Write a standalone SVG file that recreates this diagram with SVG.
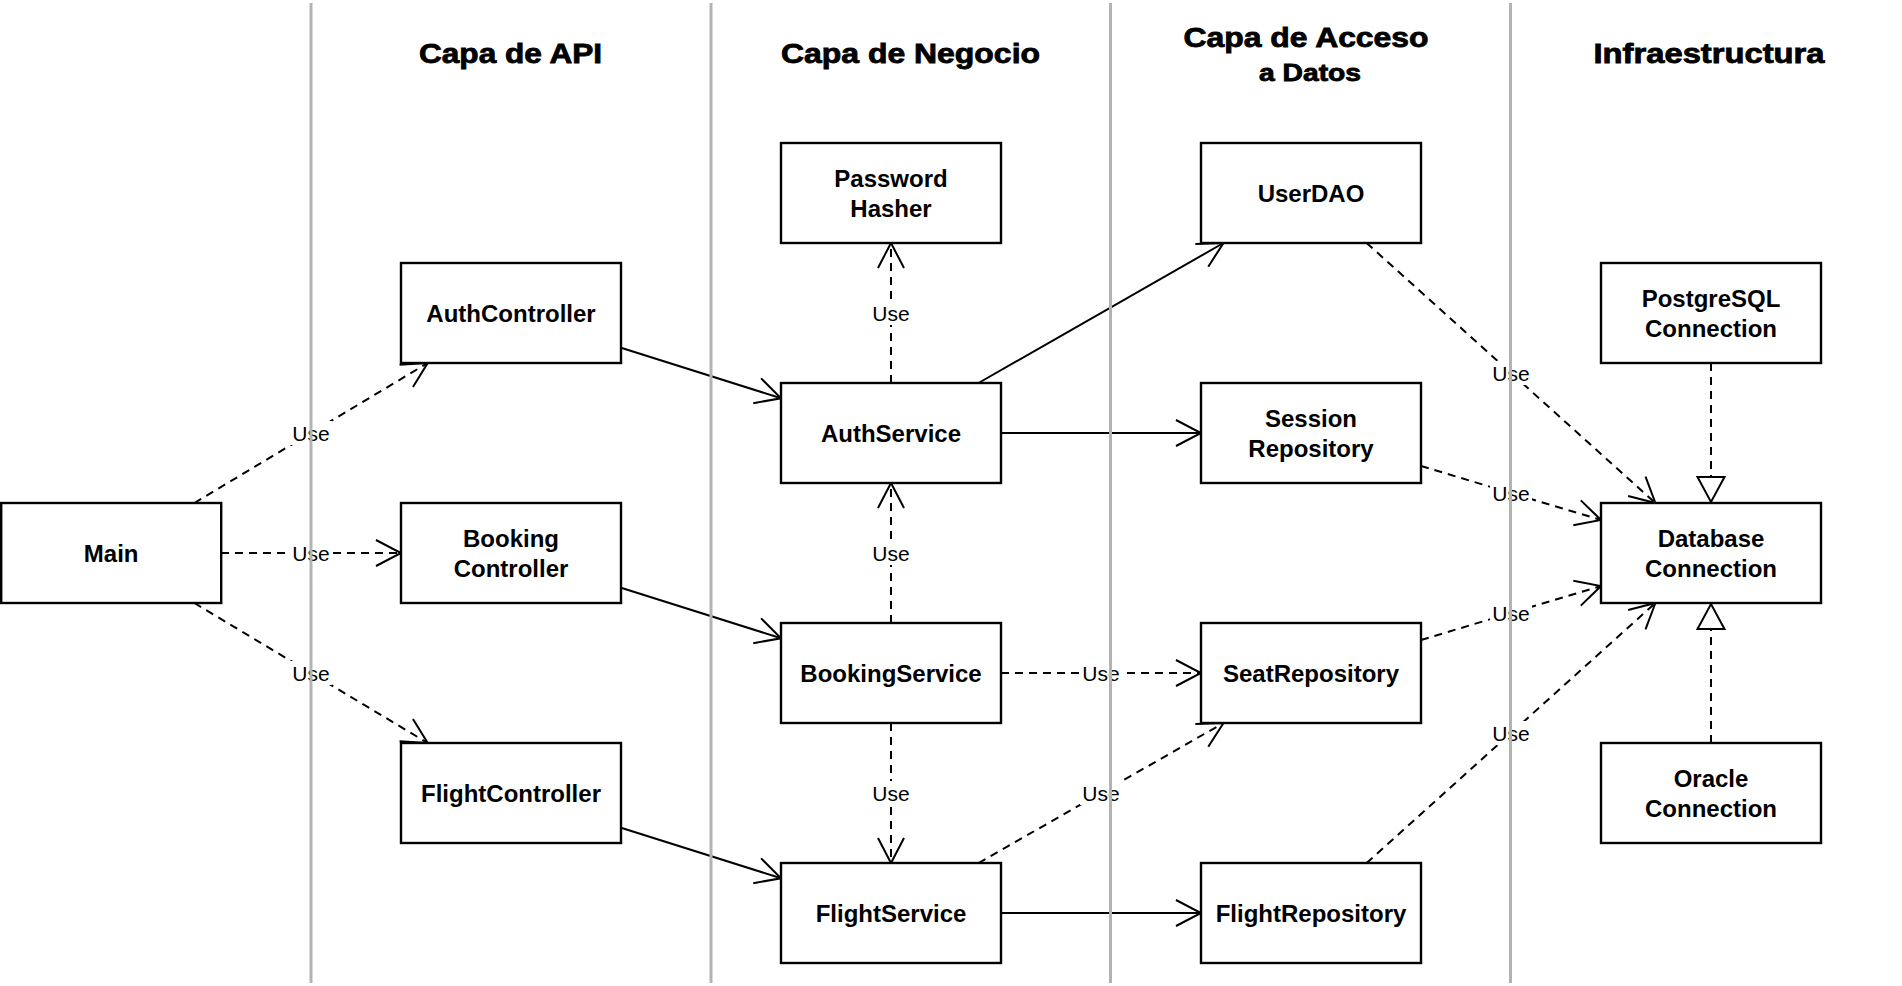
<svg xmlns="http://www.w3.org/2000/svg" width="1902" height="986" viewBox="0 0 1902 986">
<style>
.box{fill:#fff;stroke:#000;stroke-width:2.4}
.lbl{font-family:"Liberation Sans",Arial,sans-serif;font-weight:bold;font-size:24px;fill:#000;text-anchor:middle}
.hdr{font-family:"Liberation Sans",Arial,sans-serif;font-weight:bold;font-size:27px;fill:#000;text-anchor:middle;stroke:#000;stroke-width:0.8}
.use{font-family:"Liberation Sans",Arial,sans-serif;font-size:21px;fill:#000;text-anchor:middle}
.ubg{fill:#fff;stroke:none}
.solid{fill:none;stroke:#000;stroke-width:2;marker-end:url(#open)}
.dash{fill:none;stroke:#000;stroke-width:2;stroke-dasharray:8 6;marker-end:url(#open)}
.real{fill:none;stroke:#000;stroke-width:2;stroke-dasharray:8 6;marker-end:url(#tri)}
.lane{stroke:#b3b3b3;stroke-width:3;fill:none}
</style>
<defs>
<marker id="open" markerUnits="userSpaceOnUse" viewBox="-30 -16 34 32" markerWidth="34" markerHeight="32" refX="0" refY="0" orient="auto" overflow="visible">
<path d="M-25,-13 L0,0 L-25,13" fill="none" stroke="#000" stroke-width="2" stroke-dasharray="none"/>
</marker>
<marker id="tri" markerUnits="userSpaceOnUse" viewBox="-30 -16 34 32" markerWidth="34" markerHeight="32" refX="0" refY="0" orient="auto" overflow="visible">
<path d="M-25,-13.5 L0,0 L-25,13.5 Z" fill="#fff" stroke="#000" stroke-width="2" stroke-dasharray="none"/>
</marker>
</defs>
<rect width="1902" height="986" fill="#fff"/>

<g id="headers">
<text class="hdr" x="510.5" y="63" textLength="183" lengthAdjust="spacingAndGlyphs">Capa de API</text>
<text class="hdr" x="910.5" y="63" textLength="259" lengthAdjust="spacingAndGlyphs">Capa de Negocio</text>
<text class="hdr" x="1306" y="47" textLength="245" lengthAdjust="spacingAndGlyphs">Capa de Acceso</text>
<text class="hdr" x="1310" y="81" style="font-size:23px" textLength="102" lengthAdjust="spacingAndGlyphs">a Datos</text>
<text class="hdr" x="1709" y="63" textLength="231" lengthAdjust="spacingAndGlyphs">Infraestructura</text>
</g>

<g id="connectors">
<path class="dash" d="M194.3,503 L427.7,363"/>
<path class="dash" d="M221,553 L401,553"/>
<path class="dash" d="M194.3,603 L427.7,743"/>
<path class="solid" d="M621,347.7 L781,398.3"/>
<path class="solid" d="M621,587.7 L781,638.3"/>
<path class="solid" d="M621,827.7 L781,878.3"/>
<path class="dash" d="M891,383 L891,243"/>
<path class="dash" d="M891,623 L891,483"/>
<path class="dash" d="M891,723 L891,863"/>
<path class="solid" d="M978.5,383 L1223.5,243"/>
<path class="solid" d="M1001,433 L1201,433"/>
<path class="dash" d="M1001,673 L1201,673"/>
<path class="dash" d="M978.5,863 L1223.5,723"/>
<path class="solid" d="M1001,913 L1201,913"/>
<path class="dash" d="M1366.6,243 L1655.4,503"/>
<path class="dash" d="M1421,466 L1601,520"/>
<path class="dash" d="M1421,640 L1601,586"/>
<path class="dash" d="M1366.6,863 L1655.4,603"/>
<path class="real" d="M1711,363 L1711,502"/>
<path class="real" d="M1711,743 L1711,604"/>
<g id="edge-labels">
<rect class="ubg" x="290" y="421" width="42" height="24"/><text class="use" x="311" y="440.5">Use</text>
<rect class="ubg" x="290" y="541" width="42" height="24"/><text class="use" x="311" y="560.5">Use</text>
<rect class="ubg" x="290" y="661" width="42" height="24"/><text class="use" x="311" y="680.5">Use</text>
<rect class="ubg" x="870" y="301" width="42" height="24"/><text class="use" x="891" y="320.5">Use</text>
<rect class="ubg" x="870" y="541" width="42" height="24"/><text class="use" x="891" y="560.5">Use</text>
<rect class="ubg" x="870" y="781" width="42" height="24"/><text class="use" x="891" y="800.5">Use</text>
<rect class="ubg" x="1080" y="661" width="42" height="24"/><text class="use" x="1101" y="680.5">Use</text>
<rect class="ubg" x="1080" y="781" width="42" height="24"/><text class="use" x="1101" y="800.5">Use</text>
<rect class="ubg" x="1490" y="361" width="42" height="24"/><text class="use" x="1511" y="380.5">Use</text>
<rect class="ubg" x="1490" y="481" width="42" height="24"/><text class="use" x="1511" y="500.5">Use</text>
<rect class="ubg" x="1490" y="601" width="42" height="24"/><text class="use" x="1511" y="620.5">Use</text>
<rect class="ubg" x="1490" y="721" width="42" height="24"/><text class="use" x="1511" y="740.5">Use</text>
</g>
</g>

<g id="lanes">
<line class="lane" x1="311" y1="3" x2="311" y2="983"/>
<line class="lane" x1="711" y1="3" x2="711" y2="983"/>
<line class="lane" x1="1110.5" y1="3" x2="1110.5" y2="983"/>
<line class="lane" x1="1510.5" y1="3" x2="1510.5" y2="983"/>
</g>

<g id="Main"><rect class="box" x="1.2" y="503" width="220" height="100"/><text class="lbl" x="111.2" y="561.5">Main</text></g>
<g id="AuthController"><rect class="box" x="401" y="263" width="220" height="100"/><text class="lbl" x="511" y="321.5">AuthController</text></g>
<g id="BookingController"><rect class="box" x="401" y="503" width="220" height="100"/><text class="lbl" x="511" y="546.5">Booking</text><text class="lbl" x="511" y="576.5">Controller</text></g>
<g id="FlightController"><rect class="box" x="401" y="743" width="220" height="100"/><text class="lbl" x="511" y="801.5">FlightController</text></g>
<g id="PasswordHasher"><rect class="box" x="781" y="143" width="220" height="100"/><text class="lbl" x="891" y="186.5">Password</text><text class="lbl" x="891" y="216.5">Hasher</text></g>
<g id="AuthService"><rect class="box" x="781" y="383" width="220" height="100"/><text class="lbl" x="891" y="441.5">AuthService</text></g>
<g id="BookingService"><rect class="box" x="781" y="623" width="220" height="100"/><text class="lbl" x="891" y="681.5">BookingService</text></g>
<g id="FlightService"><rect class="box" x="781" y="863" width="220" height="100"/><text class="lbl" x="891" y="921.5">FlightService</text></g>
<g id="UserDAO"><rect class="box" x="1201" y="143" width="220" height="100"/><text class="lbl" x="1311" y="201.5">UserDAO</text></g>
<g id="SessionRepository"><rect class="box" x="1201" y="383" width="220" height="100"/><text class="lbl" x="1311" y="426.5">Session</text><text class="lbl" x="1311" y="456.5">Repository</text></g>
<g id="SeatRepository"><rect class="box" x="1201" y="623" width="220" height="100"/><text class="lbl" x="1311" y="681.5">SeatRepository</text></g>
<g id="FlightRepository"><rect class="box" x="1201" y="863" width="220" height="100"/><text class="lbl" x="1311" y="921.5">FlightRepository</text></g>
<g id="PostgreSQLConnection"><rect class="box" x="1601" y="263" width="220" height="100"/><text class="lbl" x="1711" y="306.5">PostgreSQL</text><text class="lbl" x="1711" y="336.5">Connection</text></g>
<g id="DatabaseConnection"><rect class="box" x="1601" y="503" width="220" height="100"/><text class="lbl" x="1711" y="546.5">Database</text><text class="lbl" x="1711" y="576.5">Connection</text></g>
<g id="OracleConnection"><rect class="box" x="1601" y="743" width="220" height="100"/><text class="lbl" x="1711" y="786.5">Oracle</text><text class="lbl" x="1711" y="816.5">Connection</text></g>
</svg>
